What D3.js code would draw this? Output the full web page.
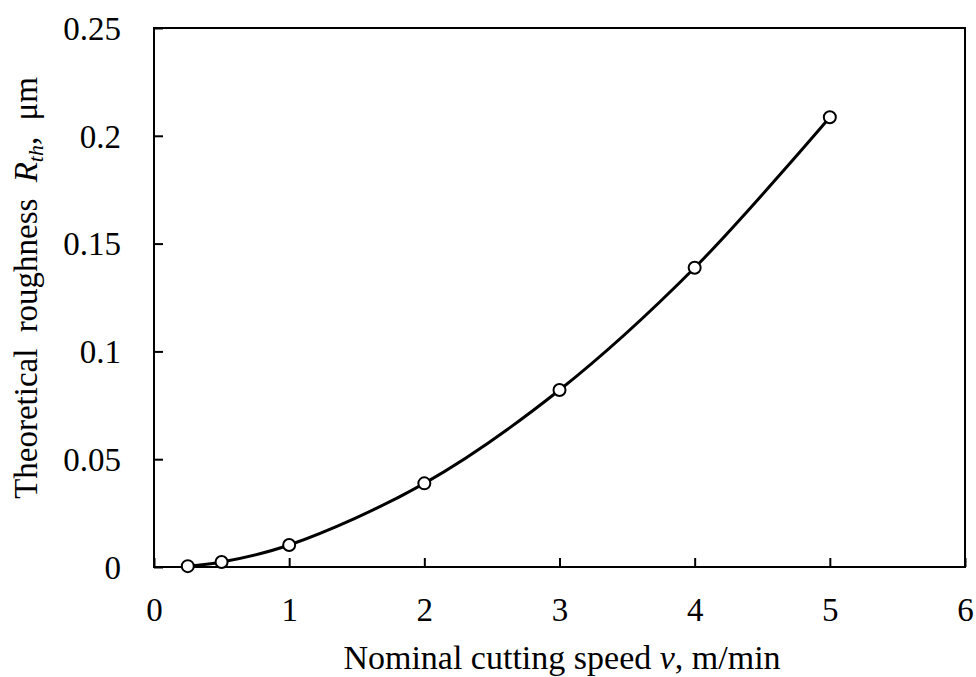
<!DOCTYPE html>
<html><head><meta charset="utf-8">
<script src="https://cdn.jsdelivr.net/npm/d3@7"></script>
<style>
body{margin:0;background:#fff;}
text{font-family:"Liberation Serif","Times New Roman",serif;fill:#000;}
</style></head>
<body><svg id="c" width="976" height="677"></svg>
<script>
const speeds = [0.25, 0.5, 1, 2, 3, 4, 5];
const roughness = [0.0004, 0.0023, 0.0102, 0.0388, 0.0821, 0.1388, 0.2086];
const xTicks = [0, 1, 2, 3, 4, 5, 6];
const yTicks = [0, 0.05, 0.1, 0.15, 0.2, 0.25];
const yTickLabels = ["0", "0.05", "0.1", "0.15", "0.2", "0.25"];

const svg = d3.select("#c");
const L = 154, R = 965, T = 28, B = 567;
const FS = 33;
const x = d3.scaleLinear().domain([0, 6]).range([L, R]);
const y = d3.scaleLinear().domain([0, 0.25]).range([B, T]);

const xa = svg.append("g").attr("transform", `translate(0,${B})`)
  .call(d3.axisBottom(x).tickValues(xTicks).tickSizeInner(-9).tickSizeOuter(0).tickFormat(d3.format("d")));
xa.select(".domain").remove();
xa.selectAll("line").attr("stroke", "#000").attr("stroke-width", 2);
xa.selectAll("text").attr("font-size", FS).attr("dy", null).attr("y", 54);

const ya = svg.append("g").attr("transform", `translate(${L},0)`)
  .call(d3.axisLeft(y).tickValues(yTicks).tickSizeInner(-9).tickSizeOuter(0).tickFormat((d,i)=>yTickLabels[i]));
ya.select(".domain").remove();
ya.selectAll("line").attr("stroke", "#000").attr("stroke-width", 2);
ya.selectAll("text").attr("font-size", FS).attr("x", -33).attr("dy", "0.34em");

svg.append("rect").attr("x", L).attr("y", T).attr("width", R - L).attr("height", B - T)
  .attr("fill", "none").attr("stroke", "#000").attr("stroke-width", 2);

const data = speeds.map((v, i) => ({v, r: roughness[i]}));
const line = d3.line().x(d => x(d.v)).y(d => y(d.r)).curve(d3.curveCatmullRom.alpha(0.5));
svg.append("path").datum(data).attr("d", line).attr("fill", "none").attr("stroke", "#000").attr("stroke-width", 3);

svg.selectAll("circle.pt").data(data).enter().append("circle").attr("class", "pt")
  .attr("cx", d => x(d.v)).attr("cy", d => y(d.r)).attr("r", 6)
  .attr("fill", "#fff").attr("stroke", "#000").attr("stroke-width", 2);

const xt = svg.append("text").attr("x", 562).attr("y", 669).attr("text-anchor", "middle").attr("font-size", 34);
xt.append("tspan").text("Nominal cutting speed ");
xt.append("tspan").attr("font-style", "italic").text("v");
xt.append("tspan").text(", m/min");

const yt = svg.append("text").attr("transform", "translate(37,288) rotate(-90)").attr("text-anchor", "middle").attr("font-size", FS).attr("word-spacing", 8);
yt.append("tspan").text("Theoretical roughness ");
yt.append("tspan").attr("font-style", "italic").text("R");
yt.append("tspan").attr("font-style", "italic").attr("font-size", 22).attr("dy", 6).text("th");
yt.append("tspan").attr("dy", -6).text(", μm");
</script></body></html>
